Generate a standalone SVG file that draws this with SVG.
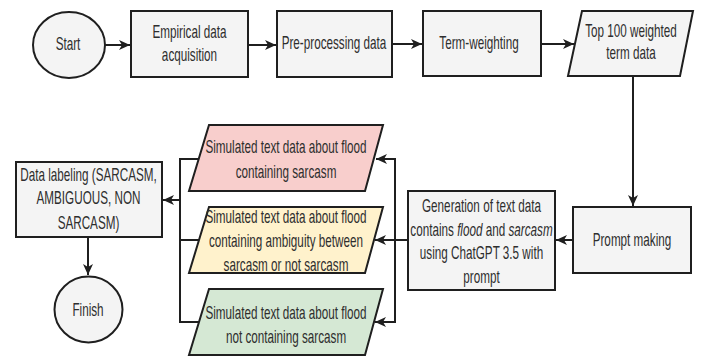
<svg xmlns="http://www.w3.org/2000/svg" width="701" height="358" viewBox="0 0 701 358">
<style>
.shape{fill:#f4f4f4;stroke:#1f1f1f;stroke-width:2}
.pink{fill:#f8cecc;stroke:#1f1f1f;stroke-width:2}
.yellow{fill:#fff2cc;stroke:#1f1f1f;stroke-width:2}
.green{fill:#d5e8d4;stroke:#1f1f1f;stroke-width:2}
.t{font-family:"Liberation Sans",Arial,sans-serif;font-size:18px;fill:#2e2e2e;text-anchor:middle}
.c{fill:none;stroke:#1f1f1f;stroke-width:2}
</style>
<defs>
<marker id="arr" markerUnits="userSpaceOnUse" markerWidth="14" markerHeight="14" refX="11" refY="7" orient="auto">
<path d="M0,2 L11,7 L0,12 L3,7 Z" fill="#1f1f1f"/>
</marker>
</defs>
<g id="connectors">
<path class="c" d="M105,45 H130" marker-end="url(#arr)"/>
<path class="c" d="M248,45 H276" marker-end="url(#arr)"/>
<path class="c" d="M392,44 H422" marker-end="url(#arr)"/>
<path class="c" d="M541,44 H574" marker-end="url(#arr)"/>
<path class="c" d="M633,76 V206" marker-end="url(#arr)"/>
<path class="c" d="M573,240 H556" marker-end="url(#arr)"/>
<path class="c" d="M408,240 H375" marker-end="url(#arr)"/>
<path class="c" d="M395,240 V159 H376" marker-end="url(#arr)"/>
<path class="c" d="M395,240 V322 H375" marker-end="url(#arr)"/>
<path class="c" d="M199,159 H180 V322 H199"/>
<path class="c" d="M199,240 H180"/>
<path class="c" d="M180,200 H163" marker-end="url(#arr)"/>
<path class="c" d="M88,237 V275" marker-end="url(#arr)"/>
</g>
<g id="start">
<ellipse class="shape" cx="69" cy="45" rx="36" ry="33"/>
<text class="t" transform="translate(68,0) scale(0.65,1)" x="0" y="50">Start</text>
</g>
<g id="empirical">
<rect class="shape" x="131" y="11" width="117" height="66"/>
<text class="t" transform="translate(189.5,0) scale(0.65,1)" x="0" y="38">Empirical data</text>
<text class="t" transform="translate(189.5,0) scale(0.65,1)" x="0" y="61">acquisition</text>
</g>
<g id="preprocessing">
<rect class="shape" x="277" y="11" width="115" height="66"/>
<text class="t" transform="translate(334,0) scale(0.65,1)" x="0" y="49">Pre-processing data</text>
</g>
<g id="termweighting">
<rect class="shape" x="423" y="11" width="118" height="65"/>
<text class="t" transform="translate(479,0) scale(0.65,1)" x="0" y="49">Term-weighting</text>
</g>
<g id="top100">
<polygon class="shape" points="582,11 693,11 680,76 568,76"/>
<text class="t" transform="translate(631,0) scale(0.65,1)" x="0" y="37">Top 100 weighted</text>
<text class="t" transform="translate(631,0) scale(0.65,1)" x="0" y="59">term data</text>
</g>
<g id="prompt">
<rect class="shape" x="573" y="207" width="118" height="66"/>
<text class="t" transform="translate(632,0) scale(0.65,1)" x="0" y="246">Prompt making</text>
</g>
<g id="generation">
<rect class="shape" x="408" y="191" width="147" height="99"/>
<text class="t" transform="translate(481.5,0) scale(0.65,1)" x="0" y="212">Generation of text data</text>
<text class="t" transform="translate(481.5,0) scale(0.65,1)" x="0" y="236">contains <tspan font-style="italic">flood</tspan> and <tspan font-style="italic">sarcasm</tspan></text>
<text class="t" transform="translate(481.5,0) scale(0.65,1)" x="0" y="259">using ChatGPT 3.5 with</text>
<text class="t" transform="translate(481.5,0) scale(0.65,1)" x="0" y="283">prompt</text>
</g>
<g id="sim-sarcasm">
<polygon class="pink" points="209,125 383,125 365,191 189,191"/>
<text class="t" transform="translate(286,0) scale(0.65,1)" x="0" y="153">Simulated text data about flood</text>
<text class="t" transform="translate(286,0) scale(0.65,1)" x="0" y="178">containing sarcasm</text>
</g>
<g id="sim-ambiguous">
<polygon class="yellow" points="209,207 383,207 365,273 189,273"/>
<text class="t" transform="translate(286,0) scale(0.65,1)" x="0" y="223">Simulated text data about flood</text>
<text class="t" transform="translate(286,0) scale(0.65,1)" x="0" y="247">containing ambiguity between</text>
<text class="t" transform="translate(286,0) scale(0.65,1)" x="0" y="271">sarcasm or not sarcasm</text>
</g>
<g id="sim-nonsarcasm">
<polygon class="green" points="209,289 383,289 365,355 189,355"/>
<text class="t" transform="translate(286,0) scale(0.65,1)" x="0" y="319">Simulated text data about flood</text>
<text class="t" transform="translate(286,0) scale(0.65,1)" x="0" y="343">not containing sarcasm</text>
</g>
<g id="labeling">
<rect class="shape" x="16" y="162" width="146" height="75"/>
<text class="t" transform="translate(88.5,0) scale(0.65,1)" x="0" y="181">Data labeling (SARCASM,</text>
<text class="t" transform="translate(88.5,0) scale(0.65,1)" x="0" y="204">AMBIGUOUS, NON</text>
<text class="t" transform="translate(88.5,0) scale(0.65,1)" x="0" y="229">SARCASM)</text>
</g>
<g id="finish">
<ellipse class="shape" cx="88.5" cy="309.5" rx="34" ry="33"/>
<text class="t" transform="translate(88,0) scale(0.65,1)" x="0" y="316">Finish</text>
</g>
</svg>
